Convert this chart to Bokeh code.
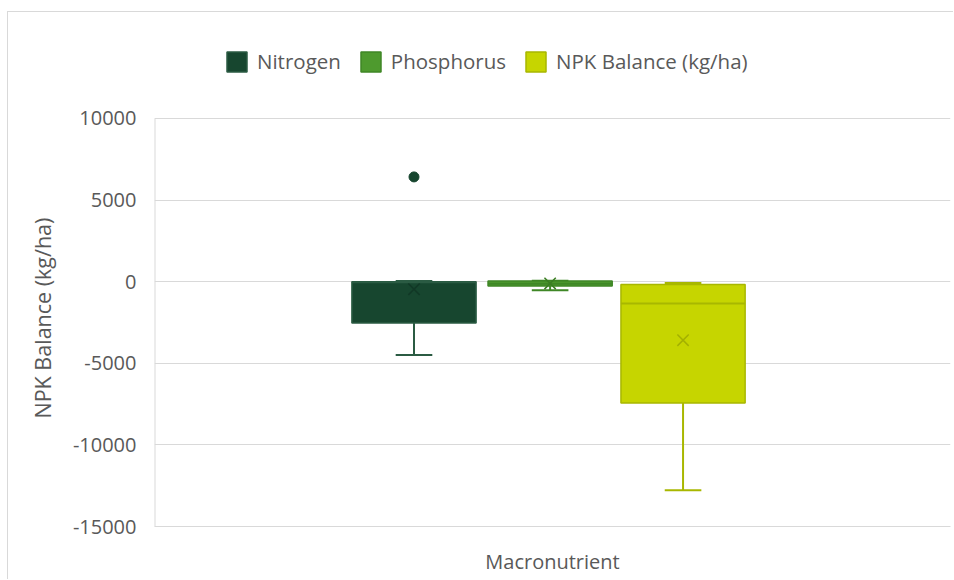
from bokeh.plotting import figure
from bokeh.models import ColumnDataSource, FactorRange, FixedTicker, Legend, LegendItem, Range1d, Title
from bokeh.transform import dodge
from bokeh.core.properties import value
from bokeh.embed import file_html
from bokeh.resources import INLINE

# ---- data ----
category = "Macronutrient"
series = ["Nitrogen", "Phosphorus", "NPK Balance (kg/ha)"]
upper = [50, 60, -75]
q3 = [0, 50, -175]
median = [-30, -120, -1340]
q1 = [-2525, -260, -7430]
lower = [-4485, -520, -12780]
mean = [-460, -110, -3585]
outlier_series = ["Nitrogen"]
outlier_values = [6420]
y_ticks = [-15000, -10000, -5000, 0, 5000, 10000]
y_title = "NPK Balance (kg/ha)"

# ---- styles ----
fills = ["#17462F", "#4E9A2E", "#C6D500"]
edges = ["#2B5B43", "#3F8726", "#A8B700"]
marks = ["#113826", "#3A7D22", "#A3B000"]
offsets = [-0.174, -0.003, 0.164]
box_w = 0.156
cap_w = 0.046
FONT = "Open Sans"
TXT = "#595959"
GRID = "#D9D9D9"
# headroom above the top tick reserved for the legend (frame extends up to it)
y_top = y_ticks[-1] + 5882

p = figure(
    width=946, height=568,
    x_range=FactorRange(category, range_padding=0),
    y_range=Range1d(y_ticks[0], y_top),
    output_backend="svg", toolbar_location=None,
    min_border_left=146, min_border_right=4, min_border_top=10, min_border_bottom=54,
)
p.styles = {"margin-left": "7px", "margin-top": "11px",
            "border-left": f"1px solid {GRID}", "border-top": f"1px solid {GRID}"}
p.outline_line_color = None
p.xgrid.grid_line_color = None
p.ygrid.grid_line_color = GRID
p.ygrid.grid_line_width = 1
p.yaxis.ticker = FixedTicker(ticks=y_ticks)
p.yaxis.major_label_overrides = {t: str(t) for t in y_ticks}

for ax in (p.xaxis[0], p.yaxis[0]):
    ax.axis_line_color = GRID
    ax.major_tick_line_color = None
    ax.minor_tick_line_color = None
    ax.major_label_text_font = FONT
    ax.major_label_text_font_size = "20px"
    ax.major_label_text_color = TXT
p.yaxis.axis_line_color = None
p.yaxis.major_label_standoff = 12
p.xaxis.major_label_standoff = 15

# value-axis title, placed along the tick span rather than the whole frame
yt = Title(text=y_title, align="left", offset=108, standoff=26,
           text_font=FONT, text_font_size="21.5px", text_color=TXT, text_font_style="normal")
p.add_layout(yt, "left")

# vertical value-axis line only over the tick span
axsrc = ColumnDataSource(dict(cat=[category], y0=[y_ticks[0]], y1=[y_ticks[-1]]))
p.segment(x0=dodge("cat", -0.5, range=p.x_range), y0="y0",
          x1=dodge("cat", -0.5, range=p.x_range), y1="y1",
          source=axsrc, line_color=GRID, line_width=2)

items = []
for i, name in enumerate(series):
    off = offsets[i]
    src = ColumnDataSource(dict(cat=[category], q1=[q1[i]], q3=[q3[i]], med=[median[i]],
                                lo=[lower[i]], hi=[upper[i]], mean=[mean[i]]))
    xc = dodge("cat", off, range=p.x_range)
    xl = dodge("cat", off - box_w / 2, range=p.x_range)
    xr = dodge("cat", off + box_w / 2, range=p.x_range)
    cl = dodge("cat", off - cap_w / 2, range=p.x_range)
    cr = dodge("cat", off + cap_w / 2, range=p.x_range)
    # whiskers
    p.segment(x0=xc, y0="q1", x1=xc, y1="lo", source=src, line_color=edges[i], line_width=2)
    p.segment(x0=xc, y0="q3", x1=xc, y1="hi", source=src, line_color=edges[i], line_width=2)
    p.segment(x0=cl, y0="lo", x1=cr, y1="lo", source=src, line_color=edges[i], line_width=2)
    p.segment(x0=cl, y0="hi", x1=cr, y1="hi", source=src, line_color=edges[i], line_width=2)
    box = p.vbar(x=xc, width=box_w, top="q3", bottom="q1", source=src,
                 fill_color=fills[i], line_color=edges[i], line_width=1.5)
    p.segment(x0=xl, y0="med", x1=xr, y1="med", source=src, line_color=edges[i], line_width=2)
    p.scatter(x=xc, y="mean", source=src, marker="x", size=16, line_color=marks[i], line_width=1.5)
    items.append(LegendItem(label=name, renderers=[box]))

    out_vals = [v for s, v in zip(outlier_series, outlier_values) if s == name]
    if out_vals:
        osrc = ColumnDataSource(dict(cat=[category] * len(out_vals), y=out_vals))
        p.scatter(x=xc, y="y", source=osrc, marker="circle", size=10,
                  fill_color=fills[i], line_color=fills[i])

legend = Legend(items=items, orientation="horizontal", location=(70, 451))
legend.label_text_font = FONT
legend.label_text_font_size = "20.5px"
legend.label_text_color = TXT
legend.glyph_width = 25
legend.glyph_height = 25
legend.label_standoff = 8
legend.spacing = 17
legend.padding = 0
legend.margin = 0
legend.border_line_color = None
legend.background_fill_alpha = 0
p.add_layout(legend, "center")

open("out.html", "w").write(file_html(p, INLINE))
